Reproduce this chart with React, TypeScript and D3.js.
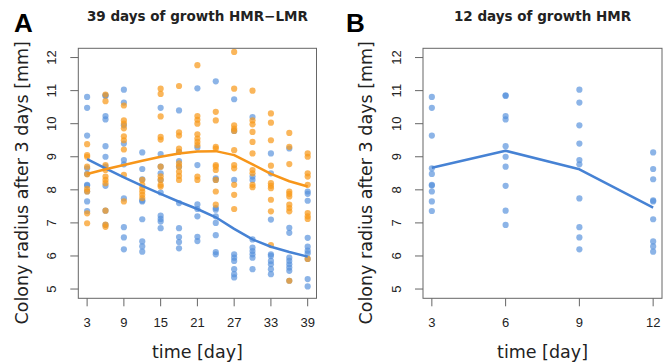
import React from "react";
import * as d3 from "d3";

// ---------- Data ----------
const daysA = [3, 6, 9, 12, 15, 18, 21, 24, 27, 30, 33, 36, 39];
const xTicksA = [3, 9, 15, 21, 27, 33, 39];
const yTicks = [5, 6, 7, 8, 9, 10, 11, 12];

// HMR (blue) observations per day, panel A
const hmrA: number[][] = [
  [10.81, 10.48, 9.64, 8.65, 8.48, 8.15, 8.13, 7.95, 7.65, 7.36],
  [10.86, 10.84, 10.23, 10.13, 9.32, 9.0, 8.7, 8.12, 7.37, 6.94],
  [11.03, 10.64, 9.95, 9.4, 8.9, 8.77, 7.74, 6.87, 6.56, 6.2],
  [9.13, 8.63, 8.32, 7.68, 7.65, 7.11, 6.44, 6.29, 6.13],
  [10.48, 9.08, 8.7, 8.5, 8.3, 7.92, 7.22, 7.12, 7.04, 6.84],
  [10.4, 9.15, 8.87, 8.7, 7.6, 6.84, 6.57, 6.42, 6.23],
  [11.07, 9.28, 8.75, 7.56, 7.42, 7.2, 6.58, 6.45],
  [11.28, 8.35, 8.3, 7.45, 7.4, 7.2, 7.0, 6.63, 6.12, 6.05],
  [10.74, 9.78, 8.3, 6.05, 5.95, 5.85, 5.6, 5.45, 5.35],
  [10.2, 8.4, 8.3, 6.5, 6.25, 6.15, 6.05, 5.95, 5.6],
  [9.1, 8.5, 7.1, 6.05, 6.0, 5.85, 5.75, 5.6, 5.45],
  [9.25, 6.85, 6.7, 5.95, 5.85, 5.75, 5.65, 5.55, 5.25],
  [7.95, 7.88, 7.67, 6.55, 6.28, 6.16, 6.08, 5.91, 5.3, 5.08],
];

// LMR (orange) observations per day, panel A
const lmrA: number[][] = [
  [9.38, 9.05, 9.0, 8.7, 8.47, 8.03, 7.95, 7.29, 6.99],
  [10.88, 10.68, 8.75, 8.6, 8.4, 8.3, 8.2, 7.37, 6.95, 6.88],
  [10.55, 10.1, 10.0, 9.86, 9.62, 9.5, 9.22, 8.45, 7.65],
  [8.3, 8.15, 8.05, 7.95, 7.85, 7.75],
  [11.06, 10.9, 10.22, 9.6, 9.52, 8.7, 8.41, 8.3, 8.15, 8.1],
  [11.14, 9.74, 9.64, 9.25, 9.15, 8.8, 8.7, 8.55, 8.42, 8.3],
  [11.77, 10.23, 10.12, 10.0, 9.68, 9.55, 9.45, 9.35, 8.4, 8.3],
  [10.36, 10.1, 9.3, 9.25, 8.75, 8.7, 8.6, 8.3, 7.95, 7.55],
  [12.17, 11.06, 9.95, 9.85, 9.78, 9.2, 8.75, 8.65, 8.15, 7.85, 7.42],
  [11.0, 10.1, 9.98, 9.75, 9.45, 9.1, 8.6, 8.5, 8.15, 8.08],
  [10.31, 10.03, 9.5, 8.73, 8.2, 8.12, 8.05, 7.7, 7.35, 6.33],
  [9.72, 9.3, 8.78, 7.95, 7.88, 7.8, 7.55, 7.45, 7.35, 5.25],
  [9.1, 9.0, 8.5, 8.4, 8.15, 7.3, 7.2, 7.12, 5.91],
];

// smoothed trend lines, panel A
const hmrLineA = [8.93, 8.65, 8.38, 8.12, 7.88, 7.64, 7.42, 7.17, 6.82, 6.5, 6.28, 6.12, 5.98];
const lmrLineA = [8.48, 8.62, 8.75, 8.88, 9.0, 9.1, 9.16, 9.17, 9.05, 8.77, 8.48, 8.26, 8.1];

// Panel B
const daysB = [3, 6, 9, 12];
const xTicksB = [3, 6, 9, 12];
const hmrB: number[][] = [
  [10.81, 10.48, 9.64, 8.65, 8.48, 8.15, 8.13, 7.95, 7.65, 7.36],
  [10.86, 10.84, 10.23, 10.13, 9.32, 9.0, 8.7, 8.12, 7.37, 6.94],
  [11.03, 10.64, 9.95, 9.4, 8.9, 8.77, 7.74, 6.87, 6.56, 6.2],
  [9.13, 8.63, 8.32, 7.68, 7.65, 7.11, 6.44, 6.29, 6.13],
];
const hmrLineB = [8.67, 9.18, 8.62, 7.46];

// ---------- Style ----------
const BLUE = "#5590dc";
const ORANGE = "#f89a1c";
const BLUE_LINE = "#4682d4";
const ORANGE_LINE = "#f7961a";
const AXIS = "#666";
const TEXT = "#222";
const LABEL_FONT = "'DejaVu Sans', Verdana, sans-serif";
const TICK_FONT = "'Liberation Sans', Arial, sans-serif";

function pad(domain: [number, number]): [number, number] {
  const r = domain[1] - domain[0];
  return [domain[0] - 0.04 * r, domain[1] + 0.04 * r];
}

type PanelProps = {
  left: number;
  right: number;
  top: number;
  bottom: number;
  xDomain: [number, number];
  xTicks: number[];
  title: string;
  letter: string;
  letterX: number;
  days: number[];
  blue: number[][];
  blueLine: number[];
  orange?: number[][];
  orangeLine?: number[];
};

function Panel(p: PanelProps) {
  const x = d3.scaleLinear().domain(pad(p.xDomain)).range([p.left, p.right]);
  const y = d3.scaleLinear().domain(pad([5, 12])).range([p.bottom, p.top]);
  const line = d3
    .line<number>()
    .x((_, i) => x(p.days[i]))
    .y((v) => y(v));
  const cx = (p.left + p.right) / 2;
  const cy = (p.top + p.bottom) / 2 + 9.5;
  const tickLen = 8;
  return (
    <g>
      {p.blue.map((vals, i) =>
        vals.map((v, j) => (
          <circle key={`b${i}-${j}`} cx={x(p.days[i])} cy={y(v)} r={3.1} fill={BLUE} fillOpacity={0.68} />
        ))
      )}
      {p.orange &&
        p.orange.map((vals, i) =>
          vals.map((v, j) => (
            <circle key={`o${i}-${j}`} cx={x(p.days[i])} cy={y(v)} r={3.1} fill={ORANGE} fillOpacity={0.72} />
          ))
        )}
      <path d={line(p.blueLine) || ""} fill="none" stroke={BLUE_LINE} strokeWidth={2.5} strokeLinejoin="round" />
      {p.orangeLine && (
        <path d={line(p.orangeLine) || ""} fill="none" stroke={ORANGE_LINE} strokeWidth={2.5} strokeLinejoin="round" />
      )}
      <rect x={p.left} y={p.top} width={p.right - p.left} height={p.bottom - p.top} fill="none" stroke={AXIS} strokeWidth={1} />
      {yTicks.map((t) => (
        <g key={`yt${t}`}>
          <line x1={p.left - tickLen} x2={p.left} y1={y(t)} y2={y(t)} stroke={AXIS} />
          <text
            transform={`translate(${p.left - 27},${y(t)}) rotate(-90)`}
            textAnchor="middle"
            dy="0.36em"
            fontFamily={TICK_FONT}
            fontSize={13}
            fill={TEXT}
          >
            {t}
          </text>
        </g>
      ))}
      {p.xTicks.map((t) => (
        <g key={`xt${t}`}>
          <line x1={x(t)} x2={x(t)} y1={p.bottom} y2={p.bottom + tickLen} stroke={AXIS} />
          <text x={x(t)} y={p.bottom + 29} textAnchor="middle" fontFamily={TICK_FONT} fontSize={13} fill={TEXT}>
            {t}
          </text>
        </g>
      ))}
      <text
        transform={`translate(${p.left - 57},${cy}) rotate(-90)`}
        textAnchor="middle"
        dy="0.36em"
        fontFamily={LABEL_FONT}
        fontSize={17.5}
        fill={TEXT}
      >
        Colony radius after 3 days [mm]
      </text>
      <text x={cx} y={358} textAnchor="middle" fontFamily={LABEL_FONT} fontSize={17.5} fill={TEXT}>
        time [day]
      </text>
      <text x={cx} y={21} textAnchor="middle" fontFamily={LABEL_FONT} fontWeight="bold" fontSize={13.5} fill={TEXT}>
        {p.title}
      </text>
      <text x={p.letterX} y={32} fontFamily={TICK_FONT} fontWeight="bold" fontSize={26} fill="#000">
        {p.letter}
      </text>
    </g>
  );
}

export default function App() {
  return (
    <svg width={670} height={363} style={{ position: "absolute", left: 0, top: 0, background: "#fff" }}>
      <rect width={670} height={363} fill="#fff" />
      <Panel
        left={78.3}
        right={316.5}
        top={48.3}
        bottom={298.3}
        xDomain={[3, 39]}
        xTicks={xTicksA}
        title="39 days of growth HMR−LMR"
        letter="A"
        letterX={14}
        days={daysA}
        blue={hmrA}
        blueLine={hmrLineA}
        orange={lmrA}
        orangeLine={lmrLineA}
      />
      <Panel
        left={423}
        right={662}
        top={48.3}
        bottom={298.3}
        xDomain={[3, 12]}
        xTicks={xTicksB}
        title="12 days of growth HMR"
        letter="B"
        letterX={346}
        days={daysB}
        blue={hmrB}
        blueLine={hmrLineB}
      />
    </svg>
  );
}
